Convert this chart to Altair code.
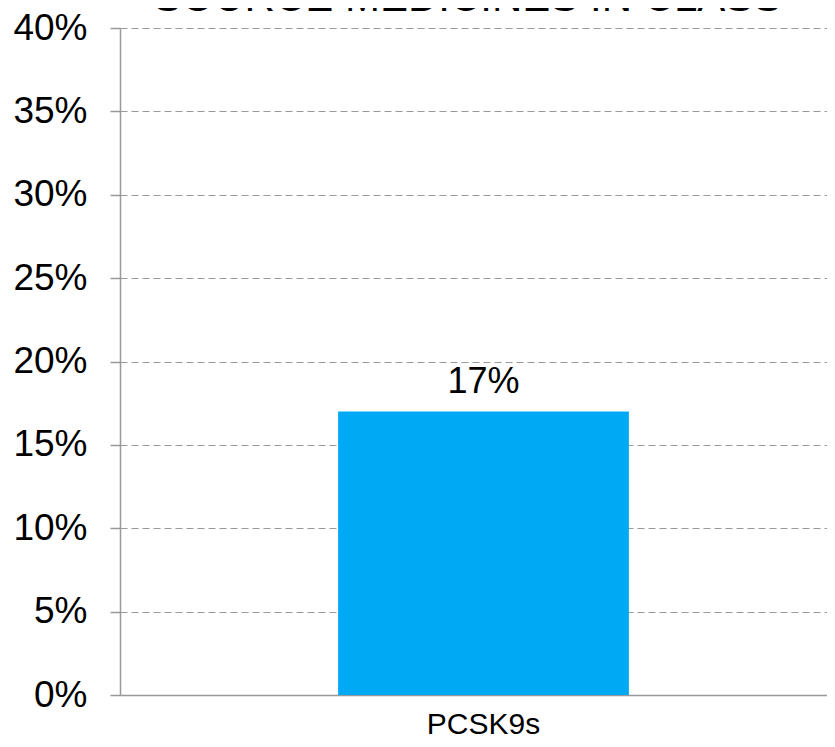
import altair as alt
import pandas as pd

categories = ["PCSK9s"]
values = [0.17]
labels = ["17%"]
title_text = ["SOURCE MEDICINES IN CLASS"]

df = pd.DataFrame({"cat": categories, "val": values, "lab": labels})
tdf = pd.DataFrame({"t": title_text})

x = alt.X(
    "cat:N",
    title=None,
    scale=alt.Scale(range=[0, 727], paddingInner=0, paddingOuter=0.75),
    axis=alt.Axis(
        labelAngle=0, labelFontSize=30, labelColor="#000000", labelFont="Liberation Sans",
        labelPadding=14, ticks=False, domainColor="#999999", domainWidth=1.5,
    ),
)
y = alt.Y(
    "val:Q",
    title=None,
    scale=alt.Scale(domain=[0, 0.4], nice=False),
    axis=alt.Axis(
        format=".0%", values=[0, 0.05, 0.1, 0.15, 0.2, 0.25, 0.3, 0.35, 0.4],
        labelFontSize=37, labelColor="#000000", labelFont="Liberation Sans",
        labelPadding=23, tickSize=10, tickColor="#999999", tickWidth=1.5,
        domainColor="#999999", domainWidth=1.5,
        gridColor="#999999", gridDash=[7, 4], gridWidth=1.2,
    ),
)

bars = alt.Chart(df).mark_bar(color="#00A9F4").encode(x=x, y=y)
text = alt.Chart(df).mark_text(
    fontSize=36, font="Liberation Sans", color="#000000", baseline="alphabetic", dy=-19
).encode(x=x, y=y, text="lab:N")
title = alt.Chart(tdf).mark_text(
    fontSize=42, font="Liberation Sans", color="#000000", baseline="alphabetic", align="center"
).encode(x=alt.value(347.5), y=alt.value(-17.5), text="t:N")

chart = alt.layer(bars, text, title).properties(
    width=707, height=667,
    autosize=alt.AutoSizeParams(type="none"),
    padding={"left": 112, "top": 20, "right": 0, "bottom": 44},
).configure_view(stroke=None)

chart.save("out.html", embed_options={"renderer": "svg", "actions": False})
